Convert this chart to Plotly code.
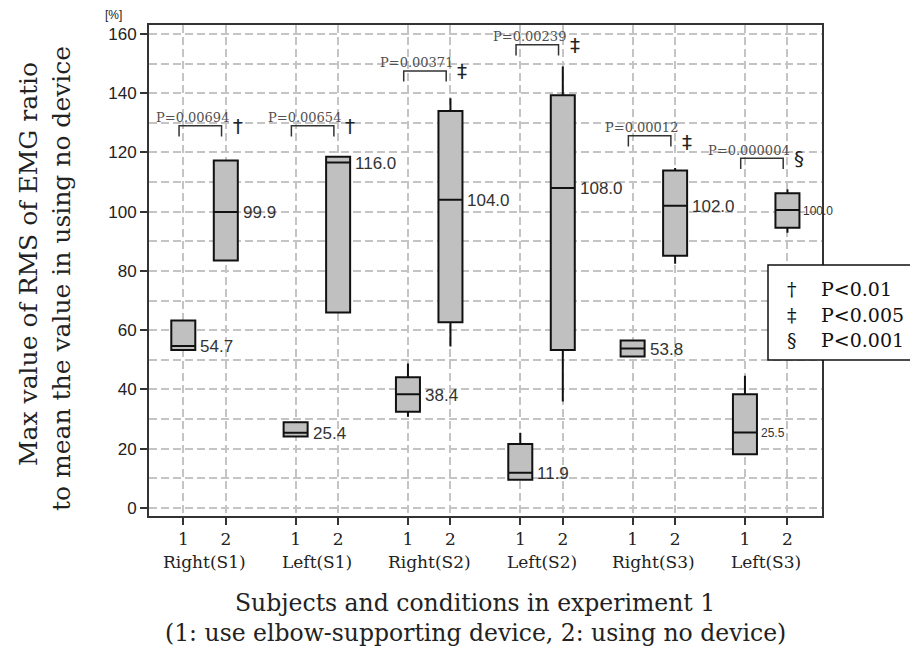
import plotly.graph_objects as go

# ---------------- data ----------------
groups = ["Right(S1)", "Left(S1)", "Right(S2)", "Left(S2)", "Right(S3)", "Left(S3)"]
conditions = ["1", "2"]

lower_fence = [53.3, 83.5, 24.1, 66.0, 30.8, 54.5, 9.5, 35.9, 51.1, 82.4, 18.1, 92.9]
q1_vals     = [53.3, 83.5, 24.1, 66.0, 32.5, 62.7, 9.5, 53.3, 51.1, 85.1, 18.1, 94.6]
median_vals = [54.7, 99.9, 25.4, 116.6, 38.4, 104.0, 11.9, 108.0, 53.8, 102.0, 25.5, 100.6]
q3_vals     = [63.3, 117.3, 28.9, 118.5, 44.1, 134.0, 21.6, 139.3, 56.5, 113.9, 38.4, 106.2]
upper_fence = [63.3, 117.3, 28.9, 118.5, 48.8, 138.3, 25.4, 149.0, 56.5, 114.7, 44.6, 107.6]
median_labels = ["54.7", "99.9", "25.4", "116.0", "38.4", "104.0",
                 "11.9", "108.0", "53.8", "102.0", "25.5", "100.0"]

p_texts = ["P=0.00694", "P=0.00654", "P=0.00371", "P=0.00239", "P=0.00012", "P=0.000004"]
p_marks = ["†", "†", "‡", "‡", "‡", "§"]
bracket_y = [129.0, 129.0, 147.5, 156.3, 125.6, 118.0]

legend_marks = ["†", "‡", "§"]
legend_texts = ["P<0.01", "P<0.005", "P<0.001"]

y_ticks = [0, 20, 40, 60, 80, 100, 120, 140, 160]

# ---------------- layout helpers ----------------
W, H = 910, 649
ML, MR, MT, MB = 149, 88, 25, 133
PW, PH = W - ML - MR, H - MT - MB
STRIDE = 2.643
BOX_W = 0.565

xs = [g * STRIDE + c for g in range(len(groups)) for c in range(len(conditions))]
tick_text = [c for _ in groups for c in conditions]


def px_x(px):
    return (px - ML) / PW


def px_y(py):
    return (H - MB - py) / PH


SERIF = "DejaVu Serif"
SANS = "Liberation Sans, Arial"

fig = go.Figure()
fig.add_trace(go.Box(
    x=xs, q1=q1_vals, median=median_vals, q3=q3_vals,
    lowerfence=lower_fence, upperfence=upper_fence,
    width=BOX_W, whiskerwidth=0, boxpoints=False,
    fillcolor="#c0c0c0", line=dict(color="#111111", width=2),
    showlegend=False, hoverinfo="skip",
))

annotations = []
shapes = []

# median labels
for i, (m, lab) in enumerate(zip(median_vals, median_labels)):
    small = i >= 10
    annotations.append(dict(
        x=xs[i] + BOX_W / 2, y=m, xref="x", yref="y", text=lab, showarrow=False,
        xanchor="left", yanchor="middle", xshift=3 if not small else 2, yshift=-1,
        font=dict(family=SANS, size=17 if not small else 12, color="#333333"),
    ))

# significance brackets
for g, (pt, pm, by) in enumerate(zip(p_texts, p_marks, bracket_y)):
    x0 = xs[2 * g] - 0.1
    x1 = xs[2 * g + 1] - 0.1
    shapes.append(dict(
        type="path", xref="x", yref="y",
        path=f"M {x0},{by - 3.6} L {x0},{by} L {x1},{by} L {x1},{by - 3.6}",
        line=dict(color="#333333", width=1.5),
    ))
    annotations.append(dict(
        x=x1, y=by, xref="x", yref="y", text=pt, showarrow=False,
        xanchor="right", yanchor="middle", xshift=9, yshift=8,
        font=dict(family=SERIF, size=13, color="#505050"),
    ))
    annotations.append(dict(
        x=x1, y=by, xref="x", yref="y", text=pm, showarrow=False,
        xanchor="center", yanchor="middle", xshift=16, yshift=(-6 if g == 4 else 0),
        font=dict(family="DejaVu Sans", size=20, color="#222222"),
    ))

# group labels under axis
for g, name in enumerate(groups):
    annotations.append(dict(
        x=(xs[2 * g] + xs[2 * g + 1]) / 2, y=0, xref="x", yref="paper", text=name,
        showarrow=False, xanchor="center", yanchor="middle", yshift=-46,
        font=dict(family=SERIF, size=17, color="#222222"),
    ))

# axis titles
annotations += [
    dict(x=px_x(475), y=0, xref="paper", yref="paper", yshift=-87,
         text="Subjects and conditions in experiment 1", showarrow=False,
         xanchor="center", yanchor="middle", font=dict(family=SERIF, size=23.5, color="#222222")),
    dict(x=px_x(475), y=0, xref="paper", yref="paper", yshift=-117,
         text="(1: use elbow-supporting device, 2: using no device)", showarrow=False,
         xanchor="center", yanchor="middle", font=dict(family=SERIF, size=23.5, color="#222222")),
    dict(x=px_x(28), y=px_y(264), xref="paper", yref="paper", textangle=-90,
         text="Max value of RMS of EMG ratio", showarrow=False,
         xanchor="center", yanchor="middle", font=dict(family=SERIF, size=25, color="#222222")),
    dict(x=px_x(61), y=px_y(279), xref="paper", yref="paper", textangle=-90,
         text="to mean the value in using no device", showarrow=False,
         xanchor="center", yanchor="middle", font=dict(family=SERIF, size=25, color="#222222")),
    dict(x=px_x(113), y=px_y(15), xref="paper", yref="paper", text="[%]", showarrow=False,
         xanchor="center", yanchor="middle", font=dict(family=SANS, size=12, color="#222222")),
]

# legend box
shapes.append(dict(
    type="rect", xref="paper", yref="paper", layer="above",
    x0=px_x(768), x1=px_x(916), y0=px_y(360), y1=px_y(265),
    fillcolor="white", line=dict(color="#111111", width=1.5),
))
for k, (lm, lt) in enumerate(zip(legend_marks, legend_texts)):
    row_y = px_y(289 + 25.5 * k)
    annotations.append(dict(
        x=px_x(792), y=row_y, xref="paper", yref="paper", text=lm, showarrow=False,
        xanchor="center", yanchor="middle", font=dict(family=SERIF, size=19, color="#111111"),
    ))
    annotations.append(dict(
        x=px_x(819), y=row_y, xref="paper", yref="paper", text=lt, showarrow=False,
        xanchor="left", yanchor="middle", font=dict(family=SERIF, size=19, color="#111111"),
    ))

GRID = dict(gridcolor="#c4c4c4", gridwidth=1.5, griddash="8px,4px")

fig.update_layout(
    width=W, height=H, margin=dict(l=ML, r=MR, t=MT, b=MB, autoexpand=False),
    paper_bgcolor="white", plot_bgcolor="white",
    showlegend=False, annotations=annotations, shapes=shapes,
    xaxis=dict(
        range=[-0.807, 15.028], tickmode="array", tickvals=xs, ticktext=tick_text,
        ticks="outside", ticklen=7, tickwidth=2, tickcolor="#333333",
        showgrid=True, **GRID, zeroline=False,
        showline=True, mirror=True, linecolor="#333333", linewidth=2,
        tickfont=dict(family=SERIF, size=17, color="#222222"),
    ),
    yaxis=dict(
        range=[-2.7, 163], tickmode="array", tickvals=y_ticks,
        ticks="outside", ticklen=7, tickwidth=2, tickcolor="#333333",
        showgrid=True, **GRID, zeroline=False,
        minor=dict(dtick=10, tick0=0, showgrid=True, **GRID, ticks=""),
        showline=True, mirror=True, linecolor="#333333", linewidth=2,
        tickfont=dict(family=SANS, size=17, color="#222222"),
    ),
)

fig.write_html("out.html")
